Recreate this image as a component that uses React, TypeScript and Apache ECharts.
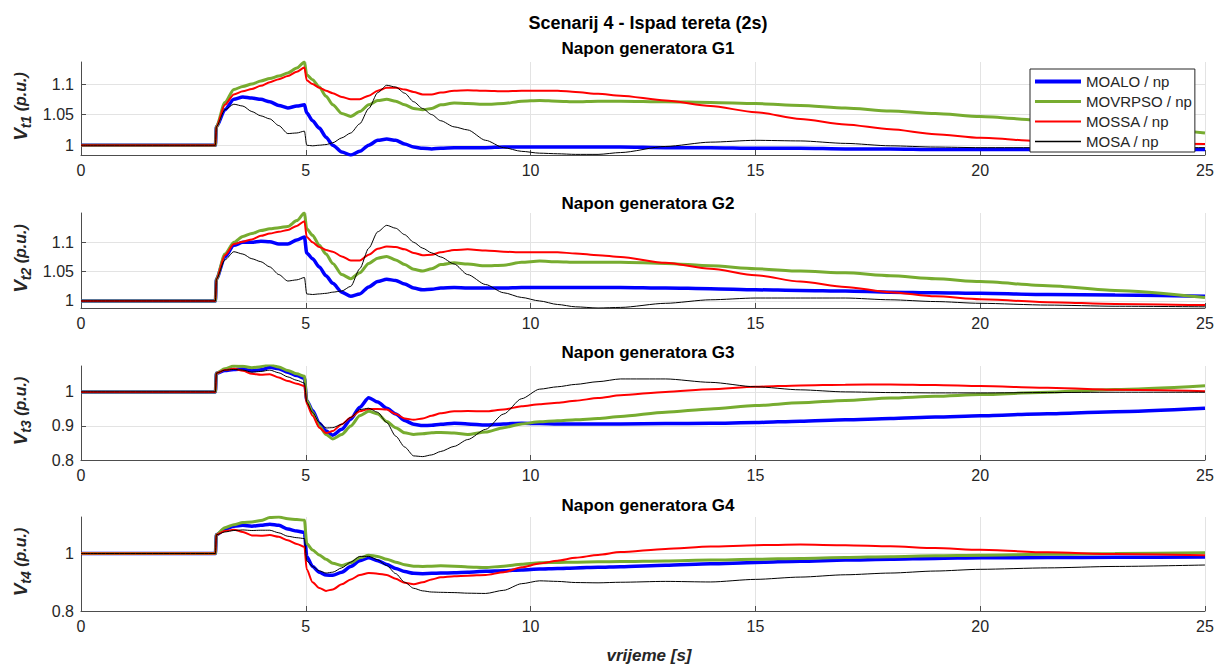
import React, { useEffect, useRef } from "react";
import * as echarts from "echarts";

// ---------- DATA ----------
const time = [0, 2.99, 3.01, 3.2, 3.4, 3.6, 3.8, 4.0, 4.2, 4.4, 4.6, 4.8, 4.97, 5.02, 5.15, 5.3, 5.45, 5.6, 5.8, 6.0, 6.2, 6.4, 6.6, 6.8, 7.0, 7.2, 7.4, 7.6, 7.8, 8.0, 8.3, 8.6, 9.0, 9.4, 9.8, 10.2, 10.6, 11, 11.5, 12, 13, 14, 15, 16, 17, 18, 19, 20, 21.5, 23, 25];

// G1
const g1Moalo = [1, 1, 1.03, 1.058, 1.075, 1.079, 1.077, 1.075, 1.071, 1.065, 1.061, 1.064, 1.066, 1.053, 1.04, 1.028, 1.013, 1.0, 0.989, 0.984, 0.99, 1.0, 1.008, 1.01, 1.008, 1.002, 0.997, 0.995, 0.994, 0.995, 0.996, 0.996, 0.996, 0.997, 0.997, 0.997, 0.997, 0.997, 0.997, 0.997, 0.996, 0.996, 0.995, 0.995, 0.994, 0.994, 0.993, 0.993, 0.993, 0.993, 0.993];
const g1Movrpso = [1, 1, 1.03, 1.07, 1.091, 1.096, 1.1, 1.105, 1.109, 1.113, 1.118, 1.126, 1.136, 1.115, 1.107, 1.095, 1.08, 1.066, 1.052, 1.047, 1.055, 1.066, 1.073, 1.075, 1.072, 1.066, 1.06, 1.058, 1.06, 1.066, 1.069, 1.068, 1.067, 1.068, 1.072, 1.073, 1.072, 1.071, 1.072, 1.072, 1.071, 1.07, 1.068, 1.065, 1.061, 1.056, 1.052, 1.047, 1.04, 1.032, 1.02];
const g1Mossa = [1, 1, 1.03, 1.066, 1.083, 1.088, 1.092, 1.097, 1.103, 1.108, 1.113, 1.12, 1.127, 1.106, 1.1, 1.094, 1.089, 1.085, 1.079, 1.075, 1.075, 1.081, 1.089, 1.094, 1.094, 1.091, 1.087, 1.083, 1.083, 1.086, 1.089, 1.09, 1.089, 1.088, 1.089, 1.089, 1.089, 1.087, 1.084, 1.081, 1.073, 1.064, 1.054, 1.043, 1.034, 1.026, 1.018, 1.012, 1.006, 1.003, 1.002];
const g1Mosa = [1, 1, 1.03, 1.058, 1.067, 1.064, 1.055, 1.048, 1.043, 1.032, 1.019, 1.02, 1.023, 1.0, 0.999, 1.0, 1.001, 1.004, 1.012, 1.02, 1.035, 1.06, 1.086, 1.098, 1.095, 1.085, 1.071, 1.06, 1.05, 1.04, 1.03, 1.025, 1.008, 0.996, 0.99, 0.987, 0.986, 0.985, 0.985, 0.988, 0.998, 1.005, 1.008, 1.007, 1.003, 0.999, 0.997, 0.996, 0.996, 0.996, 0.996];

// G2
const g2Moalo = [1, 1, 1.037, 1.075, 1.095, 1.1, 1.1, 1.102, 1.101, 1.097, 1.097, 1.104, 1.109, 1.082, 1.072, 1.058, 1.043, 1.03, 1.015, 1.008, 1.012, 1.024, 1.033, 1.037, 1.035, 1.029, 1.022, 1.019, 1.02, 1.022, 1.023, 1.022, 1.022, 1.022, 1.023, 1.023, 1.023, 1.023, 1.023, 1.023, 1.022, 1.021, 1.019, 1.018, 1.017, 1.015, 1.014, 1.013, 1.011, 1.01, 1.008];
const g2Movrpso = [1, 1, 1.037, 1.08, 1.1, 1.11, 1.115, 1.12, 1.123, 1.125, 1.127, 1.137, 1.15, 1.123, 1.112, 1.095, 1.08, 1.064, 1.045, 1.038, 1.048, 1.064, 1.073, 1.076, 1.07, 1.062, 1.054, 1.051, 1.055, 1.062, 1.065, 1.063, 1.06, 1.061, 1.066, 1.068, 1.067, 1.066, 1.066, 1.066, 1.064, 1.06, 1.055, 1.051, 1.048, 1.043, 1.038, 1.033, 1.026, 1.018, 1.006];
const g2Mossa = [1, 1, 1.037, 1.078, 1.097, 1.101, 1.105, 1.111, 1.115, 1.118, 1.121, 1.128, 1.136, 1.109, 1.1, 1.092, 1.087, 1.084, 1.076, 1.069, 1.069, 1.079, 1.089, 1.093, 1.092, 1.088, 1.082, 1.078, 1.079, 1.083, 1.087, 1.088, 1.086, 1.084, 1.083, 1.083, 1.083, 1.081, 1.078, 1.075, 1.065, 1.055, 1.044, 1.033, 1.024, 1.015, 1.008, 1.003, 0.998, 0.995, 0.993];
const g2Mosa = [1, 1, 1.037, 1.07, 1.084, 1.08, 1.072, 1.067, 1.058, 1.045, 1.034, 1.036, 1.04, 1.012, 1.011, 1.012, 1.013, 1.015, 1.017, 1.025, 1.055, 1.09, 1.118, 1.129, 1.124, 1.113, 1.1, 1.09, 1.082, 1.075, 1.063, 1.045, 1.028, 1.014, 1.006, 1.0, 0.994, 0.99, 0.988, 0.989, 0.996, 1.002, 1.005, 1.005, 1.005, 1.002, 0.999, 0.996, 0.993, 0.991, 0.99];

// G3
const g3Moalo = [1, 1, 1.055, 1.063, 1.066, 1.067, 1.062, 1.065, 1.072, 1.068, 1.058, 1.048, 1.04, 0.975, 0.945, 0.908, 0.885, 0.873, 0.89, 0.92, 0.955, 0.983, 0.97, 0.952, 0.935, 0.916, 0.905, 0.901, 0.902, 0.905, 0.908, 0.906, 0.903, 0.906, 0.908, 0.907, 0.906, 0.906, 0.906, 0.906, 0.907, 0.908, 0.91, 0.914, 0.918, 0.922, 0.926, 0.93, 0.936, 0.942, 0.952];
const g3Movrpso = [1, 1, 1.055, 1.068, 1.076, 1.075, 1.071, 1.074, 1.08, 1.073, 1.063, 1.053, 1.046, 0.975, 0.94, 0.9, 0.875, 0.862, 0.875, 0.9, 0.93, 0.943, 0.935, 0.913, 0.895, 0.88, 0.875, 0.877, 0.88, 0.881, 0.879, 0.875, 0.882, 0.895, 0.906, 0.912, 0.915, 0.918, 0.922, 0.928, 0.94, 0.95, 0.96, 0.968, 0.975, 0.982, 0.987, 0.992, 0.999, 1.007, 1.018];
const g3Mossa = [1, 1, 1.055, 1.064, 1.068, 1.062, 1.053, 1.05, 1.052, 1.042, 1.032, 1.024, 1.017, 0.965, 0.93, 0.895, 0.879, 0.885, 0.905, 0.925, 0.943, 0.95, 0.95, 0.948, 0.935, 0.922, 0.918, 0.922, 0.93, 0.937, 0.943, 0.944, 0.943, 0.948, 0.958, 0.964, 0.968, 0.974, 0.982, 0.99, 1.0, 1.008, 1.015, 1.019, 1.021, 1.022, 1.02, 1.017, 1.012, 1.006, 1.002];
const g3Mosa = [1, 1, 1.055, 1.064, 1.066, 1.064, 1.058, 1.06, 1.064, 1.056, 1.044, 1.034, 1.026, 0.97, 0.94, 0.91, 0.894, 0.895, 0.905, 0.925, 0.948, 0.952, 0.94, 0.91, 0.87, 0.838, 0.812, 0.81, 0.815, 0.825, 0.84, 0.86, 0.89, 0.935, 0.98, 1.008, 1.015, 1.022, 1.03, 1.038, 1.038, 1.028, 1.015, 1.006, 1.0, 0.998, 0.997, 0.997, 0.998, 0.999, 0.999];

// G4
const g4Moalo = [1, 1, 1.065, 1.085, 1.095, 1.098, 1.095, 1.098, 1.102, 1.098, 1.085, 1.078, 1.073, 0.99, 0.955, 0.935, 0.925, 0.924, 0.935, 0.955, 0.975, 0.985, 0.975, 0.962, 0.948, 0.937, 0.931, 0.93, 0.931, 0.932, 0.933, 0.935, 0.938, 0.94, 0.943, 0.946, 0.948, 0.95, 0.952, 0.954, 0.959, 0.964, 0.969, 0.973, 0.977, 0.98, 0.983, 0.985, 0.986, 0.987, 0.988];
const g4Movrpso = [1, 1, 1.065, 1.09, 1.1, 1.108, 1.11, 1.115, 1.125, 1.127, 1.121, 1.118, 1.116, 1.035, 1.012, 0.995, 0.98, 0.966, 0.958, 0.968, 0.985, 0.994, 0.99, 0.98, 0.97, 0.961, 0.956, 0.955, 0.956, 0.957, 0.956, 0.953, 0.951, 0.956, 0.963, 0.968, 0.969, 0.97, 0.971, 0.972, 0.974, 0.977, 0.98, 0.983, 0.986, 0.989, 0.992, 0.994, 0.997, 1.0, 1.003];
const g4Mossa = [1, 1, 1.065, 1.078, 1.083, 1.075, 1.063, 1.062, 1.064, 1.058, 1.046, 1.033, 1.023, 0.945, 0.9, 0.88, 0.87, 0.875, 0.893, 0.91, 0.925, 0.932, 0.93, 0.925, 0.912, 0.898, 0.893, 0.9, 0.91, 0.917, 0.921, 0.923, 0.925, 0.935, 0.952, 0.965, 0.975, 0.985, 0.995, 1.005, 1.016, 1.024, 1.029, 1.031, 1.029, 1.025, 1.019, 1.013, 1.004, 0.998, 0.994];
const g4Mosa = [1, 1, 1.065, 1.075, 1.08, 1.082, 1.08, 1.081, 1.081, 1.072, 1.06, 1.055, 1.052, 0.975, 0.955, 0.94, 0.932, 0.935, 0.95, 0.97, 0.99, 0.99, 0.978, 0.958, 0.93, 0.9, 0.879, 0.87, 0.866, 0.865, 0.864, 0.862, 0.861, 0.872, 0.895, 0.905, 0.903, 0.899, 0.898, 0.9, 0.903, 0.901, 0.91, 0.918, 0.926, 0.932, 0.939, 0.945, 0.95, 0.955, 0.96];

const seriesNames = ["MOALO / np", "MOVRPSO / np", "MOSSA / np", "MOSA / np"];
const panelData = [
  [g1Moalo, g1Movrpso, g1Mossa, g1Mosa],
  [g2Moalo, g2Movrpso, g2Mossa, g2Mosa],
  [g3Moalo, g3Movrpso, g3Mossa, g3Mosa],
  [g4Moalo, g4Movrpso, g4Mossa, g4Mosa],
];
const mainTitle = "Scenarij 4 - Ispad tereta (2s)";
const panelTitles = ["Napon generatora G1", "Napon generatora G2", "Napon generatora G3", "Napon generatora G4"];
const ySubscripts = ["t1", "t2", "t3", "t4"];
const xAxisTitle = "vrijeme [s]";
const xTickValues = [0, 5, 10, 15, 20, 25];
const yTickValues = [
  [1, 1.05, 1.1],
  [1, 1.05, 1.1],
  [0.8, 0.9, 1],
  [0.8, 1],
];
const yRanges = [
  [0.984, 1.136],
  [0.988, 1.15],
  [0.8, 1.076],
  [0.8, 1.127],
];

// ---------- STYLE ----------
const colors = ["#0000FF", "#77AC30", "#FF0000", "#000000"];
const widths = [3.5, 3, 2, 1];
const legendWidths = [4, 3, 2, 1.5];
const FONT = "'Liberation Sans', Arial, Helvetica, sans-serif";
const gridTops = [62, 213, 366, 517];
const gridHeights = [93, 95, 94, 94];
const titleTops = [35, 190, 339, 492];
const GRID_LEFT = 81;
const GRID_RIGHT = 12;
const AXIS_COLOR = "#4d4d4d";
const TEXT_COLOR = "#262626";
const GRIDLINE = "#e3e3e3";

export default function App() {
  const ref = useRef<HTMLDivElement>(null);

  useEffect(() => {
    if (!ref.current) return;
    const chart = echarts.init(ref.current, undefined, { renderer: "svg" });

    const grids = gridTops.map((top, i) => ({
      left: GRID_LEFT,
      right: GRID_RIGHT,
      top,
      height: gridHeights[i],
    }));

    const xAxes = gridTops.map((_, i) => ({
      type: "value",
      gridIndex: i,
      min: 0,
      max: 25,
      interval: 5,
      axisLine: { show: true, onZero: false, lineStyle: { color: AXIS_COLOR, width: 1 } },
      axisTick: {
        show: true,
        inside: true,
        length: 5,
        customValues: xTickValues,
        lineStyle: { color: AXIS_COLOR },
      },
      axisLabel: {
        customValues: xTickValues,
        color: TEXT_COLOR,
        fontSize: 16,
        fontFamily: FONT,
        margin: 7,
      },
      splitLine: { show: true, lineStyle: { color: GRIDLINE, width: 1 } },
    }));

    const yAxes = gridTops.map((_, i) => ({
      type: "value",
      gridIndex: i,
      min: yRanges[i][0],
      max: yRanges[i][1],
      axisLine: { show: true, onZero: false, lineStyle: { color: AXIS_COLOR, width: 1 } },
      axisTick: {
        show: true,
        inside: true,
        length: 5,
        customValues: yTickValues[i],
        lineStyle: { color: AXIS_COLOR },
      },
      axisLabel: {
        customValues: yTickValues[i],
        color: TEXT_COLOR,
        fontSize: 16,
        fontFamily: FONT,
        margin: 7,
        formatter: (v: number) => String(Math.round(v * 1000) / 1000),
      },
      splitLine: { show: true, lineStyle: { color: GRIDLINE, width: 1 } },
    }));

    const series: any[] = [];
    panelData.forEach((group, gi) => {
      group.forEach((vals, si) => {
        series.push({
          type: "line",
          name: seriesNames[si],
          xAxisIndex: gi,
          yAxisIndex: gi,
          data: time.map((t, k) => [t, vals[k]]),
          symbol: "none",
          showSymbol: false,
          smooth: 0.25,
          smoothMonotone: "x",
          lineStyle: { color: colors[si], width: widths[si] },
          itemStyle: { color: colors[si] },
          z: 2,
          emphasis: { disabled: true },
        });
      });
    });

    const titles: any[] = [
      {
        text: mainTitle,
        left: 643,
        top: 9,
        textAlign: "center",
        textStyle: { fontSize: 18, fontWeight: "bold", color: "#000", fontFamily: FONT },
      },
      ...panelTitles.map((t, i) => ({
        text: t,
        left: 643,
        top: titleTops[i],
        textAlign: "center",
        textStyle: { fontSize: 17, fontWeight: "bold", color: "#000", fontFamily: FONT },
      })),
      {
        text: xAxisTitle,
        left: 644,
        top: 642,
        textAlign: "center",
        textStyle: { fontSize: 17, fontWeight: "bold", fontStyle: "italic", color: TEXT_COLOR, fontFamily: FONT },
      },
    ];

    const yLabelGraphics = ySubscripts.map((sub, i) => ({
      type: "text",
      x: 20,
      y: gridTops[i] + gridHeights[i] / 2 - 2,
      rotation: Math.PI / 2,
      style: {
        text: `{v|V}{s|${sub}}{p| (p.u.)}`,
        align: "center",
        verticalAlign: "middle",
        rich: {
          v: { fontSize: 19, fontWeight: "bold", fontStyle: "italic", fontFamily: FONT, fill: TEXT_COLOR, lineHeight: 26, verticalAlign: "middle" },
          s: { fontSize: 14, fontWeight: "bold", fontStyle: "italic", fontFamily: FONT, fill: TEXT_COLOR, lineHeight: 14, verticalAlign: "bottom" },
          p: { fontSize: 16, fontWeight: "bold", fontStyle: "italic", fontFamily: FONT, fill: TEXT_COLOR, lineHeight: 26, verticalAlign: "middle" },
        },
      },
    }));

    chart.setOption({
      animation: false,
      backgroundColor: "#ffffff",
      title: titles,
      grid: grids,
      xAxis: xAxes,
      yAxis: yAxes,
      legend: {
        data: seriesNames.map((name, i) => ({
          name,
          lineStyle: { width: legendWidths[i], color: colors[i] },
          itemStyle: { opacity: 0 },
        })),
        orient: "vertical",
        left: 1030,
        top: 69,
        z: 20,
        itemWidth: 46,
        itemHeight: 14,
        itemGap: 5,
        padding: [5, 3, 3, 3],
        borderColor: "#262626",
        borderWidth: 1,
        borderRadius: 0,
        backgroundColor: "#ffffff",
        itemStyle: { opacity: 0 },
        lineStyle: { width: "inherit" },
        textStyle: { fontSize: 15, color: TEXT_COLOR, fontFamily: FONT },
        selectedMode: false,
      },
      graphic: yLabelGraphics,
      series,
    });

    return () => chart.dispose();
  }, []);

  return (
    <div
      ref={ref}
      style={{ position: "fixed", left: 0, top: 0, width: 1217, height: 666, background: "#fff" }}
    />
  );
}
